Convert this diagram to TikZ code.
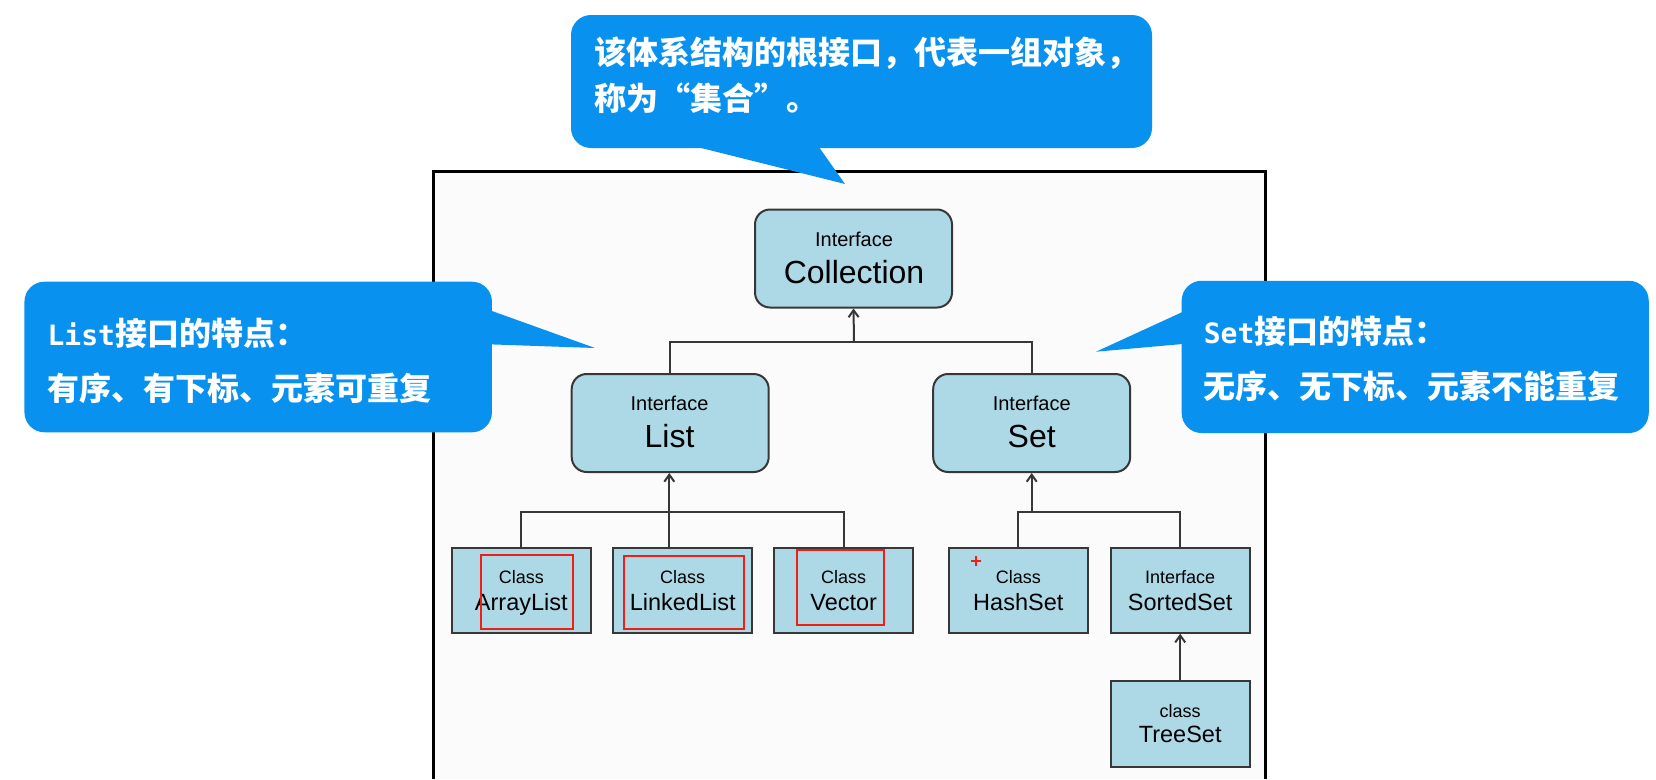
\documentclass[tikz,border=0pt]{standalone}
\usepackage{fontspec}
\setmainfont{Liberation Sans}
\newfontfamily\cjk{Noto Sans CJK SC}
\newfontfamily\monob{DejaVu Sans Mono}
\usetikzlibrary{arrows.meta}

\definecolor{boxblue}{RGB}{173,216,230}
\definecolor{boxline}{RGB}{55,55,55}
\definecolor{tipblue}{RGB}{9,145,240}
\definecolor{framebg}{RGB}{251,251,251}
\definecolor{markred}{RGB}{240,30,20}

\tikzset{
	ifbox/.style={draw=boxline, line width=2pt, fill=boxblue, rounded corners=15pt, minimum width=197pt, minimum height=98pt, inner sep=0pt},
	clbox/.style={draw=boxline, line width=2pt, fill=boxblue, minimum width=139pt, minimum height=85pt, inner sep=0pt},
	redbox/.style={draw=markred, line width=2pt},
	small/.style={anchor=base, inner sep=0pt, font=\fontsize{20}{24}\selectfont},
	big/.style={anchor=base, inner sep=0pt, font=\fontsize{32}{38}\selectfont},
	clsmall/.style={anchor=base, inner sep=0pt, font=\fontsize{18}{22}\selectfont},
	clbig/.style={anchor=base, inner sep=0pt, font=\fontsize{23.5}{28}\selectfont},
	link/.style={draw=boxline, line width=2pt},
	isa/.style={link, -{Straight Barb[length=7pt,width=10pt]}},
	bubble/.style={fill=tipblue, rounded corners=20pt, inner sep=0pt},
	tiptext/.style={anchor=west, inner sep=0pt, text=white, font=\cjk\bfseries\fontsize{32}{40}\selectfont}
}
\newcommand{\latn}[1]{{\monob\bfseries\fontsize{28}{34}\selectfont #1}}

\begin{document}
\begin{tikzpicture}[x=1pt, y=-1pt]
	\useasboundingbox (0,0) rectangle (1656,779);
	%\draw[thin, draw=gray!30, step=50pt] (0,0) grid (1656,779);
	
	% frame of the slide picture
	\fill[framebg] (433,171) rectangle (1265,779);
	\draw[line width=3pt, black] (433,779) -- (433,171) -- (1265,171) -- (1265,779);
	
	% interfaces
	\node[ifbox] (coll) at (853.5,258.5) {};
	\node[small] (collT) at (854,246.5) {Interface};
	\node[big] (collN) at (854,283.3) {Collection};
	
	\node[ifbox] (list) at (670.2,423) {};
	\node[small] (listT) at (669.5,410.5) {Interface};
	\node[big] (listN) at (669.5,447) {List};
	
	\node[ifbox] (set) at (1031.7,423) {};
	\node[small] (setT) at (1031.7,410.5) {Interface};
	\node[big] (setN) at (1031.7,447) {Set};
	
	% classes
	\node[clbox] (alist) at (521.3,590.2) {};
	\node[clsmall] at (521.3,583.3) {Class};
	\node[clbig] at (521.3,610) {ArrayList};
	
	\node[clbox] (llist) at (682.7,590.2) {};
	\node[clsmall] at (682.7,583.3) {Class};
	\node[clbig] at (682.7,610) {LinkedList};
	
	\node[clbox] (vector) at (843.7,590.2) {};
	\node[clsmall] at (843.7,583.3) {Class};
	\node[clbig] at (843.7,610) {Vector};
	
	\node[clbox] (hset) at (1018.3,590.2) {};
	\node[clsmall] at (1018.3,583.3) {Class};
	\node[clbig] at (1018.3,610) {HashSet};
	
	\node[clbox] (sset) at (1180.2,590.2) {};
	\node[clsmall] at (1180.2,583.3) {Interface};
	\node[clbig] at (1180.2,610) {SortedSet};
	
	\node[clbox, minimum height=86pt] (tset) at (1180.2,723.5) {};
	\node[clsmall] at (1180.2,717.3) {class};
	\node[clbig] at (1180.2,742.7) {TreeSet};
	
	% connectors
	\coordinate (busC) at (854,342);
	\draw[link] (list.north) |- (busC);
	\draw[link] (set.north) |- (busC);
	\draw[isa] (busC) -- (coll.south);
	
	\coordinate (busL) at (669.3,511.7);
	\draw[link] (alist.north) |- (busL) -| (vector.north);
	\draw[link] (busL) -- (busL |- llist.north);
	\draw[isa] (busL) -- (busL |- list.south);
	
	\coordinate (busS) at (1031.7,511.7);
	\draw[link] (hset.north) |- (busS) -| (sset.north);
	\draw[isa] (busS) -- (busS |- set.south);
	\draw[isa] (tset.north) -- (sset.south);
	
	% red marks
	\draw[redbox] (480.7,555) rectangle (573.3,629);
	\draw[redbox] (624.3,555.7) rectangle (744,629);
	\draw[redbox] (796.7,550.3) rectangle (884,625.3);
	\draw[markred, line width=2pt] (971,561) -- (981,561);
	\draw[markred, line width=2pt] (976,556) -- (976,566);
	
	% callouts
	\node[bubble, minimum width=581pt, minimum height=133pt] (topTip) at (861.5,81.5) {};
	\fill[tipblue] (669,140) -- (845,184) -- (814,140) -- cycle;
	\node[tiptext] (topL1) at (594,53) {该体系结构的根接口，代表一组对象，};
	\node[tiptext] (topL2) at (594,98) {称为“集合”。};
	
	\node[bubble, minimum width=467.5pt, minimum height=150.6pt] (leftTip) at (258.2,357) {};
	\fill[tipblue] (480,306.7) -- (595,348) -- (480,344) -- cycle;
	\node[tiptext] (leftL1) at (47.4,333) {\latn{List}接口的特点：};
	\node[tiptext] (leftL2) at (47.4,388) {有序、有下标、元素可重复};
	
	\node[bubble, minimum width=467.1pt, minimum height=152.3pt] (rightTip) at (1415.2,356.9) {};
	\fill[tipblue] (1194,306.7) -- (1096,351.7) -- (1194,343) -- cycle;
	\node[tiptext] (rightL1) at (1203.6,331.7) {\latn{Set}接口的特点：};
	\node[tiptext] (rightL2) at (1203.6,386.7) {无序、无下标、元素不能重复};
\end{tikzpicture}
\end{document}
